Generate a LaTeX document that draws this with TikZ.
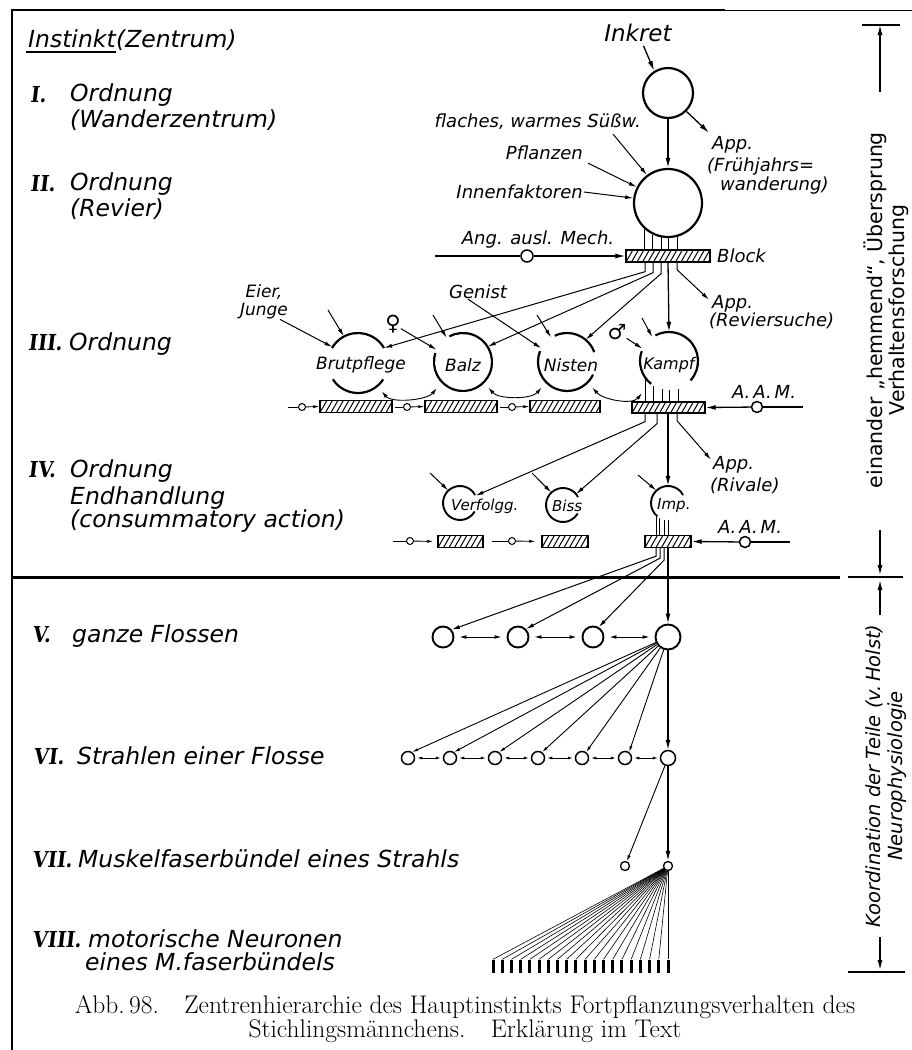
\documentclass[tikz,border=0pt]{standalone}
\usepackage{fontspec}
\setsansfont{DejaVu Sans}
\newfontfamily\numfont[FakeSlant=0.12,FakeStretch=0.88]{DejaVu Serif Bold}
\newfontfamily\symfont{DejaVu Sans}
\usetikzlibrary{arrows.meta,calc}

% arc of an open centre ring: [style]{node}{radius}{start}{end}
\newcommand\ringarc[5][]{\draw[ring,#1] ([shift={(#4:#3)}]#2.center) arc[start angle=#4,end angle=#5,radius=#3];}

\tikzset{
  lbl/.style={font=\sffamily\itshape\fontsize{23.5}{27}\selectfont, inner sep=0pt, anchor=base west},
  num/.style={font=\numfont\fontsize{22}{26}\selectfont, inner sep=0pt, anchor=base west},
  rlbl/.style={font=\sffamily\itshape\fontsize{18}{20}\selectfont, inner sep=0pt},
  clbl/.style={font=\sffamily\itshape\fontsize{17}{18}\selectfont, inner sep=0pt},
  slbl/.style={font=\sffamily\itshape\fontsize{15}{16}\selectfont, inner sep=0pt},
  sym/.style={font=\symfont\fontsize{21}{22}\selectfont, inner sep=0pt},
  ctr/.style={circle, draw, line width=2.2pt, inner sep=0pt},
  spot/.style={circle, inner sep=0pt},
  ring/.style={line width=2.2pt},
  wire/.style={line width=1pt},
  arr/.style={line width=1.3pt, -{Latex[length=10pt,width=5pt]}},
  thinarr/.style={line width=1pt, -{Latex[length=8pt,width=4pt]}},
  smallarr/.style={line width=0.9pt, -{Latex[length=6pt,width=3.2pt]}},
  dbl/.style={line width=0.9pt, {Latex[length=7pt,width=3.8pt]}-{Latex[length=7pt,width=3.8pt]}},
  tinydbl/.style={line width=0.8pt, {Latex[length=5pt,width=3pt]}-{Latex[length=5pt,width=3pt]}},
  fan/.style={line width=0.9pt, -{Latex[length=6pt,width=3pt]}},
  fibre/.style={line width=0.6pt},
  term/.style={rectangle, fill=black, minimum width=3pt, minimum height=13pt, inner sep=0pt},
  bar/.style={draw, line width=1.4pt, rectangle, inner sep=0pt, minimum height=12pt,
    path picture={\foreach \k in {-4,...,36}{\draw[line width=1pt] ([xshift=\k*5.5pt]path picture bounding box.south west) -- ++(8pt,14pt);}}},
}

\begin{document}
\begin{tikzpicture}[x=1pt,y=-1pt]
\useasboundingbox (0,0) rectangle (912,1050);

% page edges
\draw[line width=2pt] (12,1050) -- (12,10) -- (725,10);
\draw[line width=0.8pt] (725,10) -- (912,10);

% ---------- left column: levels ----------
\node[lbl, font=\sffamily\itshape\fontsize{23.5}{28}\selectfont] (tInst) at (28,47) {Instinkt};
\node[lbl, font=\sffamily\itshape\fontsize{23.5}{28}\selectfont] (tZen) at (tInst.base east) {(Zentrum)};
\draw[line width=2pt] ([yshift=-5pt,xshift=-2pt]tInst.base west) -- ([yshift=-5pt]tInst.base east);

\node[num] (n1) at (30,102) {I.};
\node[lbl] (l1a) at (70,101) {Ordnung};
\node[lbl] (l1b) at (70,127) {(Wanderzentrum)};
\node[num] (n2) at (30,191) {II.};
\node[lbl] (l2a) at (70,190) {Ordnung};
\node[lbl] (l2b) at (70,216) {(Revier)};
\node[num] (n3) at (28,350) {III.};
\node[lbl] (l3a) at (69,350) {Ordnung};
\node[num] (n4) at (28,477) {IV.};
\node[lbl] (l4a) at (70,477) {Ordnung};
\node[lbl] (l4b) at (70,504) {Endhandlung};
\node[lbl] (l4c) at (70,527) {(consummatory action)};
\node[num] (n5) at (32,642) {V.};
\node[lbl] (l5) at (72,642) {ganze Flossen};
\node[num] (n6) at (33,764) {VI.};
\node[lbl] (l6) at (77,764) {Strahlen einer Flosse};
\node[num] (n7) at (32,867) {VII.};
\node[lbl] (l7) at (78,867) {Muskelfaserbündel eines Strahls};
\node[num] (n8) at (32,947) {VIII.};
\node[lbl] (l8a) at (88,947) {motorische Neuronen};
\node[lbl] (l8b) at (85,970) {eines M.faserbündels};

% ---------- I. and II. order ----------
\node[ctr, minimum size=50pt] (C1) at (668,93) {};
\node[ctr, minimum size=68pt] (C2) at (668,203) {};
\node[rlbl, font=\sffamily\itshape\fontsize{23}{24}\selectfont] (inkret) at (638,33) {Inkret};
\draw[arr, shorten <=4pt] (inkret) -- (C1.122);
\node[rlbl, anchor=base west] (app1) at (712,149) {App.};
\node[rlbl, anchor=base west] (fj1) at (707,171) {(Frühjahrs=};
\node[rlbl, anchor=base west] (fj2) at (720,190) {wanderung)};
\draw[arr] (C1.-45) -- ([xshift=-3pt,yshift=3pt]app1.north west);
\draw[arr] (C1) -- (C2);

\node[rlbl, anchor=east] (fws) at (641,122) {flaches, warmes Süßw.};
\node[rlbl, anchor=east] (pfl) at (583,153) {Pflanzen};
\node[rlbl, anchor=east] (innen) at (583,192) {Innenfaktoren};
\draw[thinarr] ([xshift=-28pt,yshift=-4pt]fws.south east) -- (C2.127);
\draw[thinarr] ([xshift=5pt,yshift=-3pt]pfl.south east) -- (C2.153);
\draw[thinarr] ([xshift=1pt]innen.east) -- (C2.172);

\node[bar, minimum width=84pt] (B2) at (668,256) {};
\foreach \dx in {-23,-15,-7,0,9}{
  \pgfmathsetmacro\a{-90+asin(\dx/34)}
  \draw[wire] (C2.\a) -- (C2.\a |- B2.north);
}
\node[rlbl, anchor=west] (blk) at (717,256) {Block};
\coordinate (aam2) at (435,256);
\node[ctr, line width=1.5pt, minimum size=12pt] (o2) at (527,256) {};
\node[rlbl] (aamtxt) at (538,240) {Ang. ausl. Mech.};
\draw[line width=2pt] (aam2) -- (o2);
\draw[arr] (o2) -- (B2.west);

% ---------- III. order ----------
\node[spot, minimum size=60pt] (BP) at (358,363) {};
\node[spot, minimum size=58pt] (BZ) at (463,362) {};
\node[spot, minimum size=58pt] (NI) at (567,362) {};
\node[spot, minimum size=58pt] (KP) at (669,361) {};
\ringarc{BP}{30pt}{30}{150}
\ringarc{BP}{30pt}{213}{327}
\ringarc{BZ}{29pt}{162}{478}
\ringarc{NI}{29pt}{20}{115}
\ringarc{NI}{29pt}{158}{334}
\ringarc{KP}{29pt}{160}{232}
\ringarc{KP}{29pt}{318}{478}
\node[clbl] (tBP) at (361,365) {Brutpflege};
\node[clbl] (tBZ) at (463,365) {Balz};
\node[clbl] (tNI) at (571,365) {Nisten};
\node[clbl, font=\sffamily\itshape\fontsize{16}{18}\selectfont] (tKP) at (669,365) {Kampf};

\draw[thinarr] ([xshift=-23pt]B2.south) -- ++(0,9) -- (BP.30);
\draw[thinarr] ([xshift=-15pt]B2.south) -- ++(0,10) -- (BZ.32);
\draw[thinarr] ([xshift=-7pt]B2.south) -- ++(0,11) -- (NI.50);
\draw[arr] (B2.south) -- (KP.north);
\node[rlbl, anchor=base west] (app2) at (712,308) {App.};
\node[rlbl, anchor=base west] (rev) at (709,326) {(Reviersuche)};
\draw[thinarr] ([xshift=9pt]B2.south) -- ++(0,7) -- ([xshift=-3pt,yshift=-5pt]app2.north west);

\node[clbl, align=center] (eier) at (264,302) {Eier,\\Junge};
\draw[thinarr] ([xshift=-8pt]eier.south east) -- (BP.148);
\coordinate (e1) at (328,310);
\draw[thinarr] (e1) -- (BP.118);
\node[sym] (fem) at (393,324) {♀};
\draw[thinarr] (fem) -- (BZ.155);
\coordinate (e2) at (433,315);
\draw[thinarr] (e2) -- (BZ.124);
\node[rlbl] (gen) at (478,292) {Genist};
\draw[thinarr] ([xshift=-10pt]gen.south) -- (NI.152);
\coordinate (e3) at (537,315);
\draw[thinarr] (e3) -- (NI.123);
\node[sym] (mal) at (617,332) {♂};
\draw[thinarr] (mal) -- (KP.155);
\coordinate (e4) at (642,318);
\draw[thinarr] (e4) -- (KP.125);

\draw[dbl] ([shift={(-50:37pt)}]BP.center) .. controls +(10,12) and +(-10,12) .. ([shift={(-135:37pt)}]BZ.center);
\draw[dbl] ([shift={(-45:36pt)}]BZ.center) .. controls +(10,12) and +(-10,12) .. ([shift={(-135:36pt)}]NI.center);
\draw[dbl] ([shift={(-45:36pt)}]NI.center) .. controls +(10,12) and +(-10,12) .. ([shift={(-130:42pt)}]KP.center);

\node[bar, minimum width=72pt] (B3a) at (356,406.5) {};
\node[bar, minimum width=72pt] (B3b) at (461,406.5) {};
\node[bar, minimum width=70pt] (B3c) at (565,406.5) {};
\node[bar, minimum width=73pt, minimum height=11pt] (B3K) at (668.5,407.5) {};
\foreach \dx in {-24,-15,-7,0,9}{
  \pgfmathsetmacro\a{-90+asin(\dx/29)}
  \draw[wire] (KP.\a) -- (KP.\a |- B3K.north);
}
\coordinate (s3a) at (288,407);
\coordinate (s3b) at (395,407);
\coordinate (s3c) at (500,407);
\node[ctr, line width=1pt, minimum size=7pt] (o3a) at (302,407) {};
\node[ctr, line width=1pt, minimum size=7pt] (o3b) at (407,407) {};
\node[ctr, line width=1pt, minimum size=7pt] (o3c) at (512,407) {};
\draw[wire] (s3a) -- (o3a);
\draw[wire] (s3b) -- (o3b);
\draw[wire] (s3c) -- (o3c);
\draw[smallarr] (o3a) -- (B3a.west);
\draw[smallarr] (o3b) -- (B3b.west);
\draw[smallarr] (o3c) -- (B3c.west);
\coordinate (s3k) at (803,407);
\node[ctr, line width=1.5pt, minimum size=11pt] (o3k) at (757,407) {};
\node[rlbl] (aam3) at (764,392) {A.\,A.\,M.};
\draw[line width=2pt] (s3k) -- (o3k);
\draw[arr] (o3k) -- (B3K.east);

% ---------- IV. order ----------
\node[spot, minimum size=34pt] (VF) at (460,503) {};
\node[spot, minimum size=34pt] (BI) at (563,505) {};
\node[spot, minimum size=34pt] (IM) at (668,503) {};
\ringarc[line width=1.9pt]{VF}{17pt}{28}{330}
\ringarc[line width=1.9pt]{BI}{17pt}{28}{330}
\ringarc[line width=1.9pt]{IM}{17pt}{28}{232}
\node[slbl, anchor=west] (tVF) at (451,506) {Verfolgg.};
\node[slbl, anchor=west] (tBI) at (552,506) {Biss};
\node[slbl, anchor=west] (tIM) at (657,506) {Imp.};

\draw[thinarr] ([xshift=-23.5pt]B3K.south) -- ++(0,8) -- (VF.25);
\draw[thinarr] ([xshift=-11.5pt]B3K.south) -- ++(0,10) -- (BI.40);
\draw[arr] ([xshift=-0.5pt]B3K.south) -- (IM.north);
\node[rlbl, anchor=base west] (app3) at (713,469) {App.};
\node[rlbl, anchor=base west] (riv) at (710,491) {(Rivale)};
\draw[thinarr] ([xshift=8.5pt]B3K.south) -- ++(0,7) -- ([xshift=-2pt,yshift=-4pt]app3.north west);

\coordinate (f1) at (430,473);
\coordinate (f2) at (532,473);
\coordinate (f3) at (638,475);
\draw[thinarr] (f1) -- (VF.133);
\draw[thinarr] (f2) -- (BI.133);
\draw[thinarr] (f3) -- (IM.133);

\node[bar, minimum width=45pt] (B4a) at (460.5,541.5) {};
\node[bar, minimum width=46pt] (B4b) at (565,541.5) {};
\node[bar, minimum width=46pt] (B4I) at (668,541.5) {};
\foreach \dx in {-12,-8,-4,0}{
  \pgfmathsetmacro\a{-90+asin(\dx/17)}
  \draw[wire] (IM.\a) -- (IM.\a |- B4I.north);
}
\coordinate (s4a) at (393,541);
\coordinate (s4b) at (492,541);
\node[ctr, line width=1pt, minimum size=7pt] (o4a) at (410,541) {};
\node[ctr, line width=1pt, minimum size=7pt] (o4b) at (512,541) {};
\draw[wire] (s4a) -- (o4a);
\draw[wire] (s4b) -- (o4b);
\draw[smallarr, shorten >=4pt] (o4a) -- (B4a.west);
\draw[smallarr, shorten >=6pt] (o4b) -- (B4b.west);
\coordinate (s4I) at (790,542);
\node[ctr, line width=1.5pt, minimum size=11pt] (o4I) at (745,542) {};
\node[rlbl] (aam4) at (750,527) {A.\,A.\,M.};
\draw[line width=2pt] (s4I) -- (o4I);
\draw[arr] (o4I) -- (B4I.east);

% ---------- separator ----------
\draw[line width=3pt] (12,577) -- (840,577);

% ---------- V. whole fins ----------
\node[ctr, line width=1.9pt, minimum size=21pt] (V1) at (443,637) {};
\node[ctr, line width=1.9pt, minimum size=21pt] (V2) at (518,637) {};
\node[ctr, line width=1.9pt, minimum size=21pt] (V3) at (593,637) {};
\node[ctr, line width=1.9pt, minimum size=25pt] (V4) at (668,637) {};
\draw[thinarr] ([xshift=-12pt]B4I.south) -- ++(0,8) -- (V1.40);
\draw[thinarr] ([xshift=-8pt]B4I.south) -- ++(0,10) -- (V2.45);
\draw[thinarr] ([xshift=-4pt]B4I.south) -- ++(0,12) -- (V3.60);
\draw[arr] (B4I.south) -- (V4.north);
\draw[dbl] ([xshift=5pt]V1.east) -- ([xshift=-5pt]V2.west);
\draw[dbl] ([xshift=5pt]V2.east) -- ([xshift=-5pt]V3.west);
\draw[dbl] ([xshift=5pt]V3.east) -- ([xshift=-5pt]V4.west);

% ---------- VI. fin rays ----------
\foreach \i/\x in {1/408,2/450,3/495,4/538,5/582,6/625}{
  \node[ctr, line width=1.5pt, minimum size=13pt] (W\i) at (\x,758) {};
}
\node[ctr, line width=1.5pt, minimum size=15pt] (W7) at (668,758) {};
\foreach \i in {1,...,6}{
  \draw[fan] (V4) -- (W\i.55);
}
\draw[arr] (V4) -- (W7);
\foreach \i/\j in {1/2,2/3,3/4,4/5,5/6,6/7}{
  \draw[tinydbl] ([xshift=2pt]W\i.east) -- ([xshift=-2pt]W\j.west);
}

% ---------- VII. muscle fibre bundles ----------
\node[ctr, line width=1.3pt, minimum size=9pt] (M1) at (625,866) {};
\node[ctr, line width=1.3pt, minimum size=9pt] (M2) at (668,866) {};
\draw[smallarr] (W7) -- (M1);
\draw[arr] (W7) -- (M2);

% ---------- VIII. motor neurons ----------
\foreach \k in {0,...,19}{
  \node[term] (T\k) at ({668-(19-\k)*9.21},966) {};
  \draw[fibre] (M2) -- (T\k.north);
}

% ---------- dimension marks on the right ----------
\coordinate (d1top) at (880,25);
\coordinate (d1a) at (880,92);
\coordinate (d1b) at (880,530);
\coordinate (d1bot) at (880,575);
\draw[line width=1.4pt] (862,25) -- (900,25);
\draw[line width=1.4pt] (848,577) -- (903,577);
\draw[arr] (d1a) -- (d1top);
\draw[arr] (d1b) -- (d1bot);
\node[rotate=90, font=\sffamily\fontsize{20.5}{22}\selectfont, align=center, inner sep=0pt] (dim1) at (886,310)
  {einander „hemmend“, Übersprung\\Verhaltensforschung};

\coordinate (d2a) at (880,615);
\coordinate (d2top) at (880,580);
\coordinate (d2b) at (880,937);
\coordinate (d2bot) at (880,970);
\draw[arr] (d2a) -- (d2top);
\draw[arr] (d2b) -- (d2bot);
\draw[line width=1.4pt] (848,972) -- (905,972);
\node[rotate=90, font=\sffamily\itshape\fontsize{19.5}{22}\selectfont, align=center, inner sep=0pt] (dim2) at (886,776)
  {Koordination der Teile (v.\,Holst)\\Neurophysiologie};

% ---------- caption ----------
\node[font=\fontsize{25.5}{23}\selectfont, align=center, inner sep=0pt] (cap) at (465,1019)
  {Abb.\,98.\quad Zentrenhierarchie des Hauptinstinkts Fortpflanzungsverhalten des\\
   Stichlingsmännchens.\quad Erklärung im Text};
\end{tikzpicture}
\end{document}
